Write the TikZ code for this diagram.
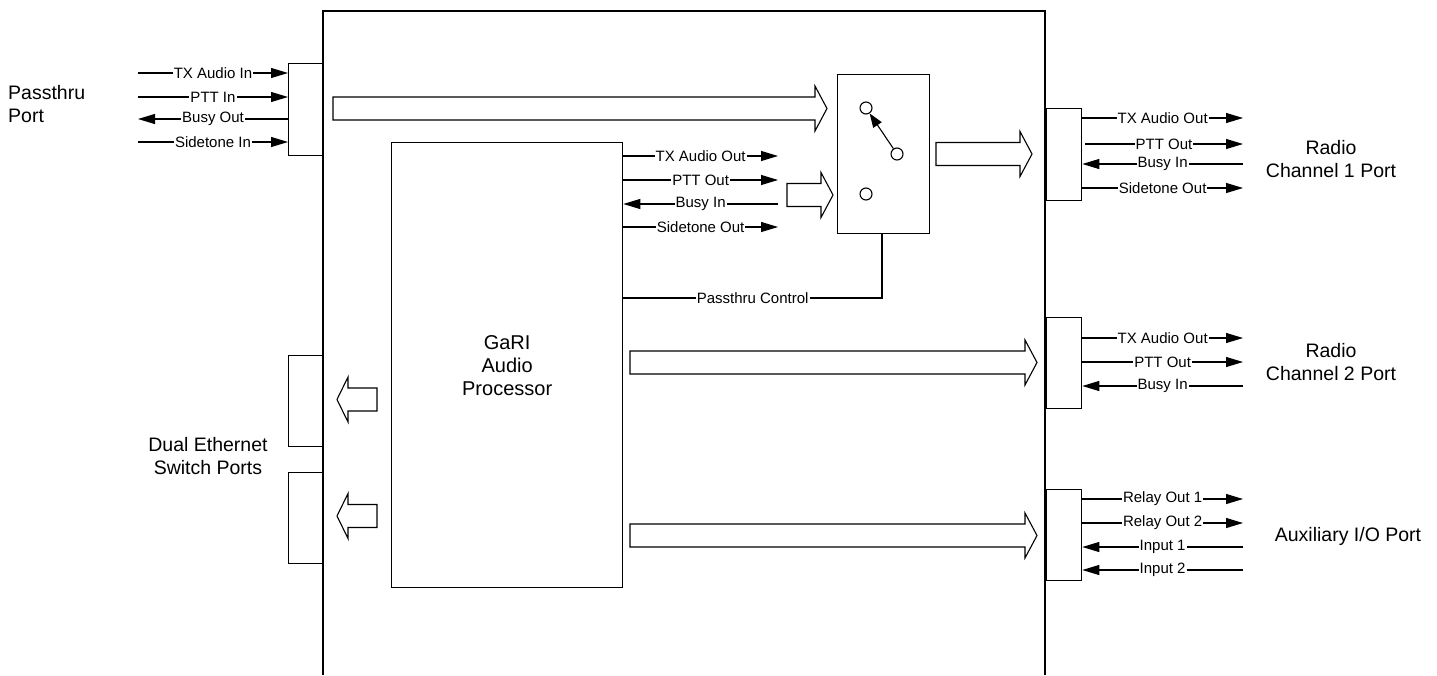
\documentclass[tikz,border=0pt]{standalone}
\usepackage{fontspec}
\setmainfont{Liberation Sans}
\usetikzlibrary{arrows.meta}
\tikzset{
  conbox/.style={draw, line width=1.3pt, minimum width=35pt, minimum height=92pt, inner sep=0pt, anchor=north west},
  sigline/.style={line width=1.1pt},
  sigarr/.style={sigline, -{Triangle[length=17pt,width=10pt]}},
  siglbl/.style={fill=white, inner sep=1pt, font=\fontsize{15}{17}\selectfont},
  biglbl/.style={font=\fontsize{19.5}{22.5}\selectfont, inner sep=0pt},
  blockarr/.style={draw, line width=1.1pt, fill=white},
  swcircle/.style={draw, circle, line width=1.1pt, minimum size=12pt, inner sep=0pt},
}
\newcommand{\rblock}[3]{%
  \draw[blockarr] (#1,#3-11.5) -- (#2-12,#3-11.5) -- (#2-12,#3-22.5) -- (#2,#3)
    -- (#2-12,#3+22.5) -- (#2-12,#3+11.5) -- (#1,#3+11.5) -- cycle;}
\newcommand{\lblock}[3]{%
  \draw[blockarr] (#1,#3-11.5) -- (#2+11,#3-11.5) -- (#2+11,#3-22.5) -- (#2,#3)
    -- (#2+11,#3+22.5) -- (#2+11,#3+11.5) -- (#1,#3+11.5) -- cycle;}
\begin{document}
\begin{tikzpicture}[x=1pt,y=-1pt]
\useasboundingbox (0,0) rectangle (1437,675);
% main enclosure (open at bottom)
\draw[line width=1.5pt] (323,675) -- (323,11) -- (1045,11) -- (1045,675);

% connector boxes
\node[conbox] (pp) at (288,63) {};
\node[conbox] (r1) at (1046,108) {};
\node[conbox, minimum height=91pt] (r2) at (1046,317) {};
\node[conbox, minimum height=91pt] (aux) at (1046,489) {};
\node[conbox, minimum height=91pt] (e1) at (288,355) {};
\node[conbox, minimum height=91pt] (e2) at (288,472) {};

% switch
\node[draw, line width=1.3pt, minimum width=92pt, minimum height=159pt, inner sep=0pt, anchor=north west] (sw) at (837,74) {};
\node[swcircle] (c1) at (866,108) {};
\node[swcircle] (c2) at (897,154) {};
\node[swcircle] (c3) at (866,194) {};
\draw[line width=1.1pt, -{Triangle[length=14pt,width=10pt]}] (c2) -- (c1);

% GaRI
\node[draw, line width=1.3pt, minimum width=231pt, minimum height=445pt, inner sep=0pt, anchor=north west,
      align=center, font=\fontsize{20}{23}\selectfont] (gari) at (391,142) {GaRI\\Audio\\Processor};

% block arrows
\rblock{333}{827}{108.5}
\rblock{787}{833}{195}
\rblock{936}{1032}{154}
\rblock{630}{1037}{362.5}
\rblock{630}{1037}{535.5}
\lblock{377}{337}{399.5}
\lblock{377}{337}{516}

% passthru port signals
\coordinate (p1) at (138,73);
\coordinate (p2) at (138,97);
\coordinate (p3) at (138,119);
\coordinate (p4) at (138,142);
\draw[sigarr] (p1) -- node[siglbl]{TX Audio In} (p1 -| pp.west);
\draw[sigarr] (p2) -- node[siglbl]{PTT In} (p2 -| pp.west);
\draw[sigarr] (p3 -| pp.west) -- node[siglbl]{Busy Out} (p3);
\draw[sigarr] (p4) -- node[siglbl]{Sidetone In} (p4 -| pp.west);

% GaRI signals
\coordinate (g1) at (778,156);
\coordinate (g2) at (778,180);
\coordinate (g3) at (778,204);
\coordinate (g4) at (778,227);
\draw[sigarr] (g1 -| gari.east) -- node[siglbl]{TX Audio Out} (g1);
\draw[sigarr] (g2 -| gari.east) -- node[siglbl]{PTT Out} (g2);
\draw[sigarr] (g3) -- node[siglbl]{Busy In} (g3 -| gari.east);
\draw[sigarr] (g4 -| gari.east) -- node[siglbl]{Sidetone Out} (g4);

% passthru control
\coordinate (pc) at (882,298);
\draw[sigline] (sw.south -| pc) -- (pc) -- node[siglbl]{Passthru Control} (pc -| gari.east);

% radio channel 1
\coordinate (a1) at (1243,118);
\coordinate (a2) at (1243,144);
\coordinate (a3) at (1243,164);
\coordinate (a4) at (1243,188);
\coordinate (a2s) at (1085,144);
\draw[sigarr] (a1 -| r1.east) -- node[siglbl]{TX Audio Out} (a1);
\draw[sigarr] (a2s) -- node[siglbl]{PTT Out} (a2);
\draw[sigarr] (a3) -- node[siglbl]{Busy In} (a3 -| r1.east);
\draw[sigarr] (a4 -| r1.east) -- node[siglbl]{Sidetone Out} (a4);

% radio channel 2
\coordinate (b1) at (1243,338);
\coordinate (b2) at (1243,362);
\coordinate (b3) at (1243,386);
\draw[sigarr] (b1 -| r2.east) -- node[siglbl]{TX Audio Out} (b1);
\draw[sigarr] (b2 -| r2.east) -- node[siglbl]{PTT Out} (b2);
\draw[sigarr] (b3) -- node[siglbl]{Busy In} (b3 -| r2.east);

% auxiliary
\coordinate (x1) at (1243,499);
\coordinate (x2) at (1243,523);
\coordinate (x3) at (1243,547);
\coordinate (x4) at (1243,570);
\draw[sigarr] (x1 -| aux.east) -- node[siglbl]{Relay Out 1} (x1);
\draw[sigarr] (x2 -| aux.east) -- node[siglbl]{Relay Out 2} (x2);
\draw[sigarr] (x3) -- node[siglbl]{Input 1} (x3 -| aux.east);
\draw[sigarr] (x4) -- node[siglbl]{Input 2} (x4 -| aux.east);

% big labels
\node[biglbl, align=left, anchor=west] (lpp) at (8,104) {Passthru\\Port};
\node[biglbl, align=center] (lr1) at (1331,159) {Radio\\Channel 1 Port};
\node[biglbl, align=center] (lr2) at (1331,362) {Radio\\Channel 2 Port};
\node[biglbl, align=center] (lax) at (1348,536) {Auxiliary I/O Port};
\node[biglbl, align=center] (leth) at (208,456) {Dual Ethernet\\Switch Ports};
\end{tikzpicture}
\end{document}
